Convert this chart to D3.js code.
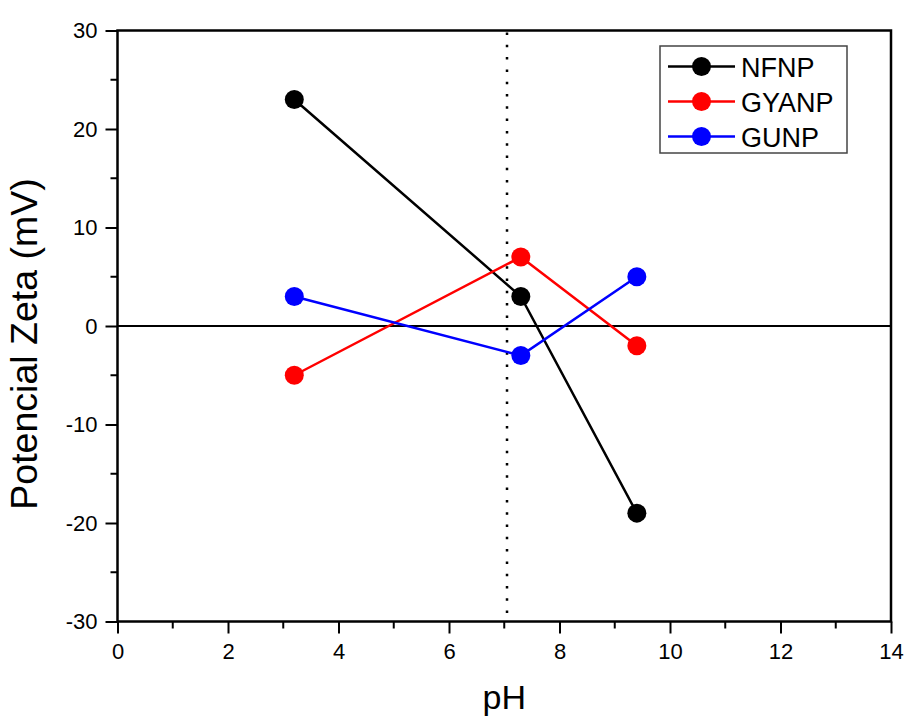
<!DOCTYPE html>
<html><head><meta charset="utf-8">
<script src="https://cdn.jsdelivr.net/npm/d3@7"></script>
<style>body{margin:0;background:#fff}svg{display:block}</style>
</head><body>
<script>
const phValues = [3.2, 7.3, 9.4];
const nfnp = [23, 3, -19];
const gyanp = [-5, 7, -2];
const gunp = [3, -3, 5];
const seriesNames = ["NFNP", "GYANP", "GUNP"];
const seriesColors = ["#000000", "#ff0000", "#0000ff"];
const xTicks = [0, 2, 4, 6, 8, 10, 12, 14];
const yTicks = [-30, -20, -10, 0, 10, 20, 30];
const refPH = 7.05;

const W = 907, H = 718;
const m = {l:117.5, r:16, t:30.5, b:96.5};
const svg = d3.select("body").append("svg").attr("width", W).attr("height", H);
const x = d3.scaleLinear().domain([0,14]).range([m.l, W - m.r]);
const y = d3.scaleLinear().domain([-30,30]).range([H - m.b, m.t]);
const font = "Arial, 'Liberation Sans', sans-serif";
const fmt = d => String(d);

// minor ticks
const xMinor = d3.range(1, 14, 2);
const yMinor = d3.range(-25, 30, 10);
svg.append("g").selectAll("line").data(xMinor).join("line")
  .attr("x1", d=>x(d)).attr("x2", d=>x(d)).attr("y1", y(-30)).attr("y2", y(-30)+7)
  .attr("stroke","#000").attr("stroke-width",2);
svg.append("g").selectAll("line").data(yMinor).join("line")
  .attr("y1", d=>y(d)).attr("y2", d=>y(d)).attr("x1", x(0)).attr("x2", x(0)-7)
  .attr("stroke","#000").attr("stroke-width",2);

const xAxis = svg.append("g").attr("transform", `translate(0,${y(-30)})`)
  .call(d3.axisBottom(x).tickValues(xTicks).tickSize(12).tickPadding(10).tickFormat(fmt));
const yAxis = svg.append("g").attr("transform", `translate(${x(0)},0)`)
  .call(d3.axisLeft(y).tickValues(yTicks).tickSize(12).tickPadding(8).tickFormat(fmt));
[xAxis, yAxis].forEach(g => {
  g.attr("font-size", null).attr("font-family", null);
  g.select(".domain").remove();
  g.selectAll(".tick line").attr("stroke","#000").attr("stroke-width",2);
  g.selectAll("text").style("font-family", font).style("font-size", "22px").attr("fill","#000");
});

// frame
svg.append("rect").attr("x", x(0)).attr("y", y(30)).attr("width", x(14)-x(0)).attr("height", y(-30)-y(30))
  .attr("fill","none").attr("stroke","#000").attr("stroke-width",2.5);

// zero line
svg.append("line").attr("x1", x(0)).attr("x2", x(14)).attr("y1", y(0)).attr("y2", y(0))
  .attr("stroke","#000").attr("stroke-width",2);
// dotted reference
svg.append("line").attr("x1", x(refPH)).attr("x2", x(refPH)).attr("y1", y(30)+2).attr("y2", y(-30))
  .attr("stroke","#000").attr("stroke-width",2.5).attr("stroke-dasharray","2.5,9.8");

const allSeries = [nfnp, gyanp, gunp];
const line = d3.line().x((d,i)=>x(phValues[i])).y(d=>y(d));
allSeries.forEach((s, k) => {
  svg.append("path").datum(s).attr("d", line).attr("fill","none")
    .attr("stroke", seriesColors[k]).attr("stroke-width", 2.5);
});
allSeries.forEach((s, k) => {
  svg.append("g").selectAll("circle").data(s).join("circle")
    .attr("cx",(d,i)=>x(phValues[i])).attr("cy", d=>y(d)).attr("r", 9.5)
    .attr("fill", seriesColors[k]);
});

// legend
const lg = svg.append("g");
lg.append("rect").attr("x", 660).attr("y", 46).attr("width", 187).attr("height", 107)
  .attr("fill","#fff").attr("stroke","#444").attr("stroke-width",1.5);
seriesNames.forEach((n, k) => {
  const yy = 66.5 + k*35;
  lg.append("line").attr("x1", 668).attr("x2", 735).attr("y1", yy).attr("y2", yy)
    .attr("stroke", seriesColors[k]).attr("stroke-width", 2.5);
  lg.append("circle").attr("cx", 701.5).attr("cy", yy).attr("r", 9.5).attr("fill", seriesColors[k]);
  lg.append("text").attr("x", 741).attr("y", yy+10).text(n)
    .style("font-family", font).style("font-size", "27px").attr("fill","#000");
});

// axis titles
svg.append("text").attr("x", (x(0)+x(14))/2).attr("y", 709).attr("text-anchor","middle")
  .style("font-family", font).style("font-size", "34px").text("pH");
svg.append("text").attr("transform", `translate(37,${(y(30)+y(-30))/2 + 18}) rotate(-90)`)
  .attr("text-anchor","middle").style("font-family", font).style("font-size", "37.5px").text("Potencial Zeta (mV)");
</script>
</body></html>
